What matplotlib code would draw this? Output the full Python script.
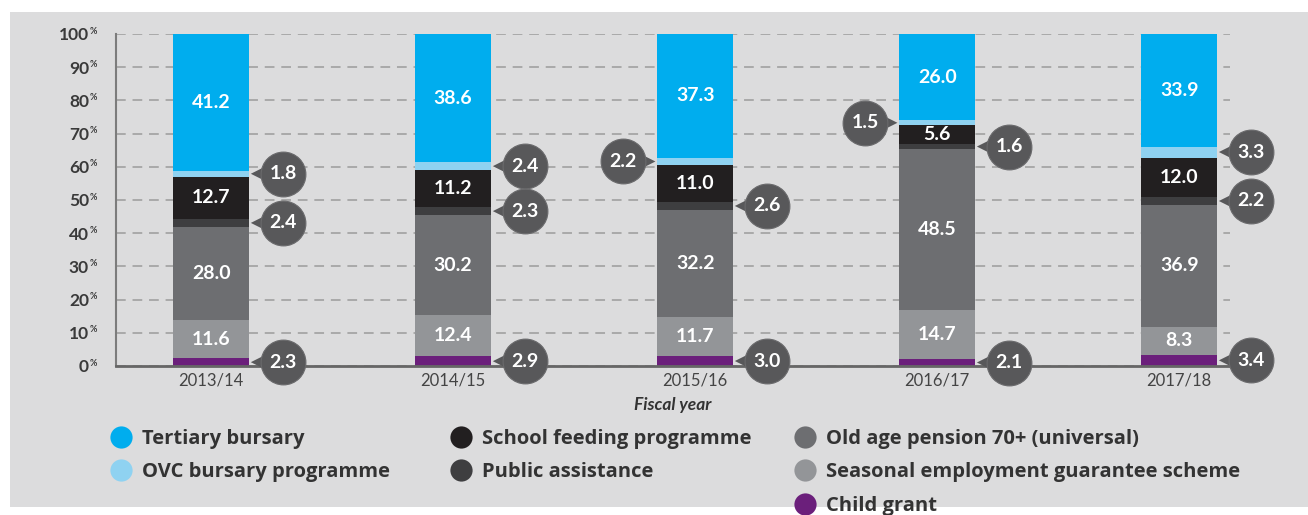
import matplotlib
matplotlib.use('Agg')
import matplotlib.pyplot as plt
from matplotlib.lines import Line2D
from matplotlib.patches import Rectangle
import numpy as np

plt.rcParams['font.family'] = ['Lato', 'DejaVu Sans']

# ---------------- data ----------------
years = ['2013/14', '2014/15', '2015/16', '2016/17', '2017/18']
child_grant = [2.3, 2.9, 3.0, 2.1, 3.4]
seasonal_employment = [11.6, 12.4, 11.7, 14.7, 8.3]
old_age_pension = [28.0, 30.2, 32.2, 48.5, 36.9]
public_assistance = [2.4, 2.3, 2.6, 1.6, 2.2]
school_feeding = [12.7, 11.2, 11.0, 5.6, 12.0]
ovc_bursary = [1.8, 2.4, 2.2, 1.5, 3.3]
tertiary_bursary = [41.2, 38.6, 37.3, 26.0, 33.9]

# stacking order bottom -> top
series_names = ['Child grant', 'Seasonal employment guarantee scheme',
                'Old age pension 70+ (universal)', 'Public assistance',
                'School feeding programme', 'OVC bursary programme',
                'Tertiary bursary']
series_values = [child_grant, seasonal_employment, old_age_pension,
                 public_assistance, school_feeding, ovc_bursary,
                 tertiary_bursary]
series_colors = ['#6b1f7b', '#939598', '#6d6e71', '#3e3e40',
                 '#221f20', '#8fd2f1', '#00adee']
label_kind = ['bubble', 'inside', 'inside', 'bubble', 'inside', 'bubble', 'inside']
# side of the bubble for each series / year
bubble_side = {
    'Child grant': ['right'] * 5,
    'Public assistance': ['right'] * 5,
    'OVC bursary programme': ['right', 'right', 'left', 'left', 'right'],
}
y_ticks = [0, 10, 20, 30, 40, 50, 60, 70, 80, 90, 100]

legend_columns = [
    ['Tertiary bursary', 'OVC bursary programme'],
    ['School feeding programme', 'Public assistance'],
    ['Old age pension 70+ (universal)', 'Seasonal employment guarantee scheme', 'Child grant'],
]

# ---------------- figure ----------------
W, H = 1308, 515
fig = plt.figure(figsize=(W / 100, H / 100), dpi=100)
fig.patch.set_facecolor('white')
fig.add_artist(Rectangle((10 / W, (H - 507) / H), (W - 10) / W, (507 - 12) / H,
                         transform=fig.transFigure, facecolor='#dcdcdd',
                         edgecolor='none', zorder=-10))

ax_l, ax_r, ax_t, ax_b = 116, 1230, 34, 366
ax = fig.add_axes([ax_l / W, (H - ax_b) / H, (ax_r - ax_l) / W, (ax_b - ax_t) / H])
ax.set_facecolor('none')
ax.set_xlim(-0.393, 4.21)
ax.set_ylim(0, 100)

px = (4.21 + 0.393) / (ax_r - ax_l)  # data units per pixel in x
bar_w = 76 * px

x = np.arange(len(years))
bottom = np.zeros(len(years))
bubble_col = '#58585a'
for name, vals, col, kind in zip(series_names, series_values, series_colors, label_kind):
    vals = np.array(vals)
    ax.bar(x, vals, bottom=bottom, width=bar_w, color=col, edgecolor='none', zorder=3)
    mids = bottom + vals / 2
    for i, (v, m) in enumerate(zip(vals, mids)):
        if kind == 'inside':
            ax.text(x[i], m, f'{v:.1f}', ha='center', va='center', color='white',
                    fontsize=14, fontweight='bold', zorder=5)
        else:
            side = bubble_side[name][i]
            sgn = 1 if side == 'right' else -1
            edge = x[i] + sgn * bar_w / 2
            cx = edge + sgn * 34 * px
            tx = edge + sgn * 9 * px
            ax.scatter([tx], [m], s=110, marker='<' if sgn > 0 else '>',
                       color=bubble_col, edgecolors='none', zorder=6, clip_on=False)
            ax.scatter([cx], [m], s=1040, marker='o', color=bubble_col,
                       edgecolors='#6a6a6c', linewidths=0.8, zorder=7, clip_on=False)
            ax.text(cx, m, f'{v:.1f}', ha='center', va='center', color='white',
                    fontsize=14, fontweight='bold', zorder=8, clip_on=False)
    bottom = bottom + vals

# grid
ax.set_axisbelow(True)
ax.yaxis.grid(True, color='#a9a9a9', lw=1.4, ls=(0, (5, 3.5)), zorder=0)

# spines
for s in ['top', 'right']:
    ax.spines[s].set_visible(False)
ax.spines['left'].set_color('#7c7c7c')
ax.spines['left'].set_linewidth(1.5)
ax.spines['bottom'].set_color('#666666')
ax.spines['bottom'].set_linewidth(2)
ax.spines['bottom'].set_zorder(4)

# y ticks
ax.set_yticks(y_ticks)
ax.set_yticklabels([str(v) for v in y_ticks])
ax.tick_params(axis='y', length=0, pad=19.5, labelsize=12.5, labelcolor='#3a3a3a')
for lab in ax.get_yticklabels():
    lab.set_fontweight('bold')
for v in y_ticks:
    ax.annotate('%', xy=(0, v), xycoords=('axes fraction', 'data'),
                xytext=(-19, 3), textcoords='offset pixels', ha='right', va='center',
                fontsize=6.5, fontweight='bold', color='#3a3a3a')

# x ticks
ax.set_xticks(x)
ax.set_xticklabels(years)
ax.tick_params(axis='x', length=0, pad=5, labelsize=12, labelcolor='#444444')
ax.set_xlabel('Fiscal year', fontsize=12.5, fontstyle='italic', fontweight='bold',
              color='#333333', labelpad=6)

# legends
col_x = [121, 461, 805]
fs = 14.5
fs_px = fs * 100 / 72
for cx_pix, names in zip(col_x, legend_columns):
    handles = [Line2D([], [], ls='none', marker='o', markersize=16,
                      markerfacecolor=series_colors[series_names.index(n)],
                      markeredgecolor='none') for n in names]
    hl = 1.0
    anchor_x = (cx_pix - hl * fs_px / 2) / W
    fig.legend(handles, names, loc='upper left',
               bbox_to_anchor=(anchor_x, (H - 429) / H),
               frameon=False, handlelength=hl, handletextpad=0.55,
               labelspacing=0.67, borderpad=0, borderaxespad=0,
               labelcolor='#333333',
               prop={'family': ['Open Sans', 'DejaVu Sans'],
                     'weight': 'bold', 'size': fs})

fig.savefig('out.png', dpi=100, facecolor='white')
